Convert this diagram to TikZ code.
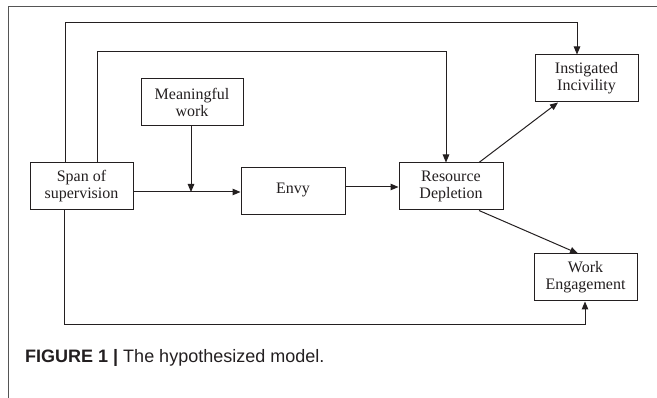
\documentclass[tikz,border=0pt]{standalone}
\usepackage{fontspec}
\setmainfont{Liberation Serif}
\newfontfamily\capfont{Liberation Sans}
\usetikzlibrary{arrows.meta}
\definecolor{ink}{HTML}{231F20}
\definecolor{frame}{HTML}{555555}
\begin{document}
\begin{tikzpicture}[x=1pt,y=-1pt,
  boxnode/.style={draw=ink,line width=1pt,minimum width=103pt,minimum height=47pt,inner sep=0pt,align=center,
    font=\fontsize{16}{17}\selectfont,text=ink},
  arr/.style={draw=ink,line width=1pt,-{Triangle[length=8pt,width=6.5pt]}},
  ln/.style={draw=ink,line width=1pt}]
\useasboundingbox (0,0) rectangle (657,398);
% frame
\draw[frame,line width=0.9pt] (8,398) -- (8,6) -- (657,6);
% nodes
\node[boxnode] (span) at (81.5,186.5) {Span of\\supervision};
\node[boxnode,minimum width=102pt] (mw) at (192,102.5) {Meaningful\\work};
\node[boxnode,minimum width=104pt] (envy) at (293,191.5) {\raisebox{6pt}{Envy}};
\node[boxnode,minimum width=104pt] (res) at (451,186.5) {Resource\\Depletion};
\node[boxnode] (inc) at (586.5,78.5) {Instigated\\Incivility};
\node[boxnode] (work) at (585.5,277.5) {Work\\Engagement};
% coordinates
\coordinate (o1) at (65,23); \coordinate (o2) at (577,23);
\coordinate (i1) at (97,52); \coordinate (i2) at (446,52);
\coordinate (b1) at (64,325); \coordinate (b2) at (585,325);
\coordinate (m) at (191,192);
\coordinate (r) at (372,187);
\coordinate (ra) at (479,0);
\coordinate (ia) at (558,0);
\coordinate (wa) at (578,0);
% connectors
\draw[arr] (span.north -| o1) -- (o1) -- (o2) -- (inc.north -| o2);
\draw[arr] (span.north -| i1) -- (i1) -- (i2) -- (res.north -| i2);
\draw[arr] (span.south -| b1) -- (b1) -- (b2) -- (work.south -| b2);
\draw[arr] (span.east |- m) -- (envy.west |- m);
\draw[arr] (mw.south -| m) -- (m);
\draw[arr] (envy.east |- r) -- (res.west |- r);
\draw[arr] (res.north -| ra) -- (inc.south -| ia);
\draw[arr] (res.south -| ra) -- (work.north -| wa);
% caption
\node[anchor=base west,inner sep=0pt,text=ink,font=\capfont\fontsize{18}{21}\selectfont] (cap) at (25,363)
  {\textbf{FIGURE 1} \textbf{|} The hypothesized model.};
\end{tikzpicture}
\end{document}
